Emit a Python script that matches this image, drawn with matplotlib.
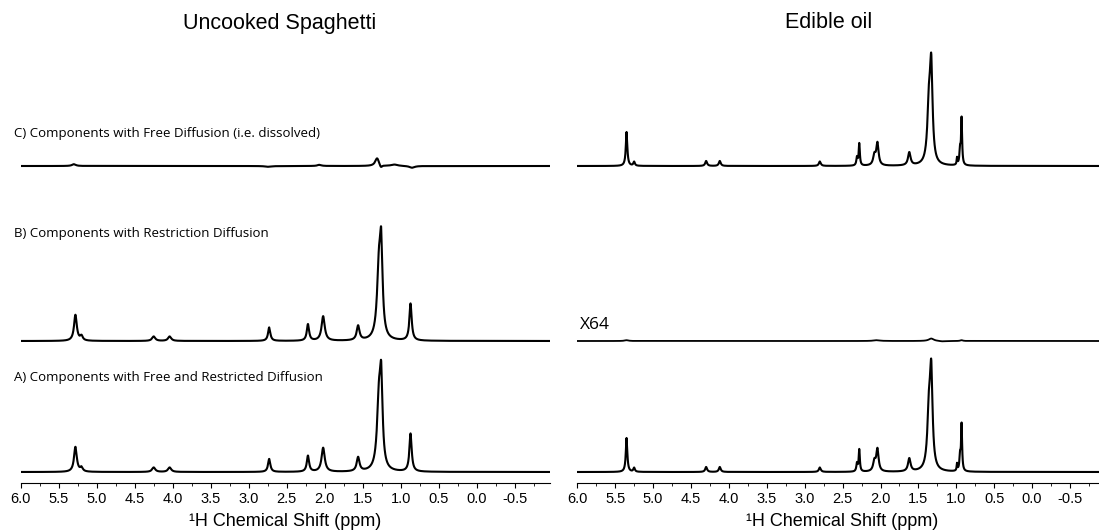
import numpy as np
import matplotlib
matplotlib.use("Agg")
import matplotlib.pyplot as plt

# peak tables: (ppm, height, half width)
spag_A_ppm = [5.28, 5.20, 4.25, 4.04, 2.73, 2.22, 2.02, 1.56, 1.285, 1.255, 0.87]
spag_A_h = [25, 4, 4.5, 4.5, 13, 16, 24, 14, 70, 75, 38]
spag_A_w = [0.022, 0.02, 0.025, 0.025, 0.018, 0.018, 0.025, 0.022, 0.03, 0.02, 0.018]

spag_B_ppm = [5.28, 5.20, 4.25, 4.04, 2.73, 2.22, 2.02, 1.56, 1.285, 1.255, 0.87]
spag_B_h = [26, 4.5, 4.5, 4.5, 13.5, 16.5, 24.5, 14.5, 71, 77, 37]
spag_B_w = [0.022, 0.02, 0.025, 0.025, 0.018, 0.018, 0.025, 0.022, 0.03, 0.02, 0.018]

spag_C_ppm = [5.30, 2.74, 2.07, 1.31, 1.26, 1.08, 0.85]
spag_C_h = [1.8, -0.8, 1.2, 8.0, -3.0, 1.4, -1.8]
spag_C_w = [0.03, 0.05, 0.03, 0.03, 0.02, 0.05, 0.04]

oil_ppm = [5.35, 5.25, 4.30, 4.12, 2.80, 2.31, 2.28, 2.08, 2.04, 1.62, 1.36, 1.33, 0.99, 0.95, 0.93]
oil_h = [34, 4, 5, 5, 4.5, 8, 22, 10, 22, 13, 57, 89, 7, 15, 46]
oil_w = [0.012, 0.012, 0.015, 0.015, 0.015, 0.01, 0.009, 0.02, 0.018, 0.02, 0.025, 0.02, 0.006, 0.01, 0.008]

oil_x64_ppm = [5.35, 2.05, 1.33, 1.18, 0.93]
oil_x64_h = [0.8, 0.8, 2.5, -0.5, 0.8]
oil_x64_w = [0.03, 0.05, 0.04, 0.05, 0.02]

spag_labels = ["C) Components with Free Diffusion (i.e. dissolved)",
               "B) Components with Restriction Diffusion",
               "A) Components with Free and Restricted Diffusion"]
titles = ["Uncooked Spaghetti", "Edible oil"]
xlabel = "¹H Chemical Shift (ppm)"
tick_vals = [6.0, 5.5, 5.0, 4.5, 4.0, 3.5, 3.0, 2.5, 2.0, 1.5, 1.0, 0.5, 0.0, -0.5]


def spectrum(x, ppm, h, w):
    y = np.zeros_like(x)
    for p, a, g in zip(ppm, h, w):
        y += a / (1 + ((x - p) / g) ** 2)
    return y


W, H = 1099, 530
fig = plt.figure(figsize=(W / 100, H / 100), dpi=100)

x = np.linspace(-1.0, 6.0, 7001)
axis_y = 483
base_A, base_B, base_C = axis_y - 472, axis_y - 341, axis_y - 166
ymax = axis_y - 30

ax_left = fig.add_axes([20.7 / W, 1 - axis_y / H, 529.3 / W, ymax / H])
ax_right = fig.add_axes([577.3 / W, 1 - axis_y / H, 530.6 / W, ymax / H])

lw = 1.5
ax_left.plot(x, base_A + spectrum(x, spag_A_ppm, spag_A_h, spag_A_w), color="black", lw=lw)
ax_left.plot(x, base_B + spectrum(x, spag_B_ppm, spag_B_h, spag_B_w), color="black", lw=lw)
ax_left.plot(x, base_C + spectrum(x, spag_C_ppm, spag_C_h, spag_C_w), color="black", lw=lw)

ax_right.plot(x, base_A + spectrum(x, oil_ppm, oil_h, oil_w), color="black", lw=lw)
ax_right.plot(x, base_B + spectrum(x, oil_x64_ppm, oil_x64_h, oil_x64_w), color="black", lw=1.3)
ax_right.plot(x, base_C + spectrum(x, oil_ppm, oil_h, oil_w), color="black", lw=lw)

ax_left.set_xlim(6.0, -0.965)
ax_right.set_xlim(6.0, -1.0)
for ax in (ax_left, ax_right):
    ax.set_ylim(0, ymax)
    for s in ("top", "left", "right"):
        ax.spines[s].set_visible(False)
    ax.spines["bottom"].set_linewidth(0.8)
    ax.set_yticks([])
    ax.set_xticks(tick_vals)
    ax.set_xticklabels([f"{t:.1f}" for t in tick_vals], family="Liberation Sans", fontsize=10.5)
    ax.set_xticks(np.arange(-0.75, 6.01, 0.25), minor=True)
    ax.tick_params(axis="x", which="major", direction="out", length=3.5, width=0.8, pad=3)
    ax.tick_params(axis="x", which="minor", direction="out", length=2, width=0.6)
    ax.patch.set_alpha(0)

# titles, axis labels and annotations
fig.text(280 / W, 1 - 23 / H, titles[0], ha="center", va="center", family="Liberation Sans", fontsize=15.5)
fig.text(829 / W, 1 - 23 / H, titles[1], ha="center", va="center", family="Liberation Sans", fontsize=15.5)
fig.text(285 / W, 1 - 521 / H, xlabel, ha="center", va="center", family="Liberation Sans", fontsize=13)
fig.text(842 / W, 1 - 521 / H, xlabel, ha="center", va="center", family="Liberation Sans", fontsize=13)

for lab, yp in zip(spag_labels, [133, 233, 378]):
    fig.text(14 / W, 1 - yp / H, lab, ha="left", va="center", family="Open Sans", fontsize=9.5)
fig.text(580 / W, 1 - 325 / H, "X64", ha="left", va="center", family="Open Sans", fontsize=12.5)

fig.savefig("out.png", dpi=100)
